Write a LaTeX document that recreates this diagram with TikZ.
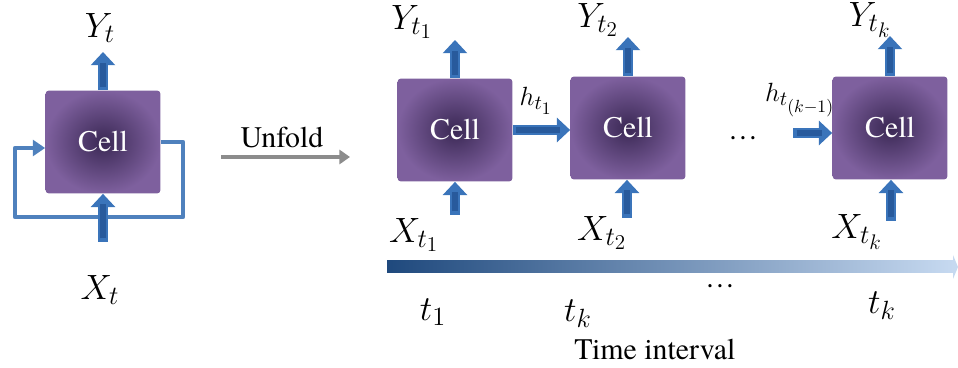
\RequirePackage{fix-cm}
\documentclass[tikz,border=0pt]{standalone}
\usepackage{fontspec}
\setmainfont{texgyretermes}[Extension=.otf, UprightFont=*-regular,
  BoldFont=*-bold, ItalicFont=*-italic, BoldItalicFont=*-bolditalic]
\usetikzlibrary{arrows.meta}
\usetikzlibrary{calc}
\DeclareMathSizes{20}{20}{15}{12}
\DeclareMathSizes{15}{15}{11.5}{10}
\definecolor{cellin}{RGB}{58,40,84}
\definecolor{cellout}{RGB}{126,96,158}
\definecolor{loopblue}{RGB}{79,129,189}
\definecolor{arrowblue}{RGB}{58,116,186}
\definecolor{arrowmid}{RGB}{40,90,156}
\definecolor{bardark}{RGB}{31,73,125}
\definecolor{barlight}{RGB}{198,217,240}
\definecolor{unfoldgray}{RGB}{140,140,140}

\tikzset{
  cell/.style={rectangle, rounded corners=2pt, minimum width=2.3cm,
    minimum height=2.06cm, shading=radial, inner color=cellin,
    outer color=cellout, text=white, font=\fontsize{17}{20}\selectfont},
  biglbl/.style={font=\fontsize{20}{24}\selectfont},
  smalllbl/.style={font=\fontsize{15}{18}\selectfont},
  fatarrow/.style={line width=6.2pt, draw=arrowblue,
    -{Triangle[width=13.5pt,length=7.5pt]},
    postaction={draw=arrowmid, line width=3.4pt, shorten >=6pt, shorten <=2pt, -}},
  loopline/.style={line width=2.4pt, draw=loopblue, line join=round},
  unfoldarrow/.style={line width=2.2pt, draw=unfoldgray,
    -{Triangle[width=8pt,length=6pt]}}
}

\begin{document}
\begin{tikzpicture}[x=0.02cm, y=-0.02cm]
\useasboundingbox (0,0) rectangle (958,368);

%---------------------------------------
% Folded cell with its loop
%---------------------------------------
\coordinate (loopR) at (183,217);
\coordinate (loopL) at (15,148);
\coordinate (x0in) at (103,242);

\node[cell] (c0) at (103,142) {Cell};
\node[biglbl] (y0) at (100,28) {$Y_t$};
\node[biglbl] (x0) at (100,290) {$X_t$};

\draw[loopline, -{Triangle[width=9pt,length=7pt]}]
  (c0.east) -| (loopR) -| (loopL) -- (loopL -| c0.west);

\draw[fatarrow] (c0.north) -- (c0.north |- 0,52);
\draw[fatarrow] (x0in) -- (c0.south);

%---------------------------------------
% Unfold
%---------------------------------------
\coordinate (unfS) at (221,157);
\coordinate (unfE) at (350,157);
\draw[unfoldarrow] (unfS) -- (unfE);
\node[font=\fontsize{17}{20}\selectfont] (unfoldlbl) at (282,138) {Unfold};

%---------------------------------------
% Unfolded cells
%---------------------------------------
\node[cell] (c1) at (455,130) {Cell};
\node[cell] (c2) at (628,128) {Cell};
\node[cell] (c3) at (890,128) {Cell};

% outputs
\node[biglbl] (y1) at (412,22) {$Y_{t_1}$};
\node[biglbl] (y2) at (598,20) {$Y_{t_2}$};
\node[biglbl] (y3) at (870,20) {$Y_{t_k}$};
\draw[fatarrow] (c1.north) -- (c1.north |- 0,40);
\draw[fatarrow] (c2.north) -- (c2.north |- 0,37);
\draw[fatarrow] (c3.north) -- (c3.north |- 0,36);

% inputs
\coordinate (x1in) at (455,215);
\coordinate (x2in) at (627,218);
\coordinate (x3in) at (891,221);
\node[biglbl] (x1) at (414,235) {$X_{t_1}$};
\node[biglbl] (x2) at (602,233) {$X_{t_2}$};
\node[biglbl] (x3) at (857,232) {$X_{t_k}$};
\draw[fatarrow] (x1in) -- (x1in |- c1.south);
\draw[fatarrow] (x2in) -- (x2in |- c2.south);
\draw[fatarrow] (x3in) -- (x3in |- c3.south);

% hidden states
\node[smalllbl] (h1) at (536,101) {$h_{t_1}$};
\node[smalllbl] (hk) at (800,100) {$h_{t_{(k-1)}}$};
\coordinate (hkin) at (793,133);
\draw[fatarrow] (c1.east) -- (c1.east -| c2.west);
\draw[fatarrow] (hkin) -- (hkin -| c3.west);

\node[font=\fontsize{17}{20}\selectfont] (dots1) at (743,138) {\ldots};

%---------------------------------------
% Time axis
%---------------------------------------
\shade[left color=bardark, right color=barlight] (387,261) rectangle (953,273);
\fill[barlight] (953,255) -- (958,267) -- (953,279) -- cycle;

\node[biglbl] (t1) at (433,312) {$t_1$};
\node[biglbl] (t2) at (578,314) {$t_k$};
\node[font=\fontsize{17}{20}\selectfont] (dots2) at (720,286) {\ldots};
\node[biglbl] (t3) at (882,306) {$t_k$};
\node[font=\fontsize{17}{20}\selectfont] (timelbl) at (655,350) {Time interval};

\end{tikzpicture}
\end{document}
